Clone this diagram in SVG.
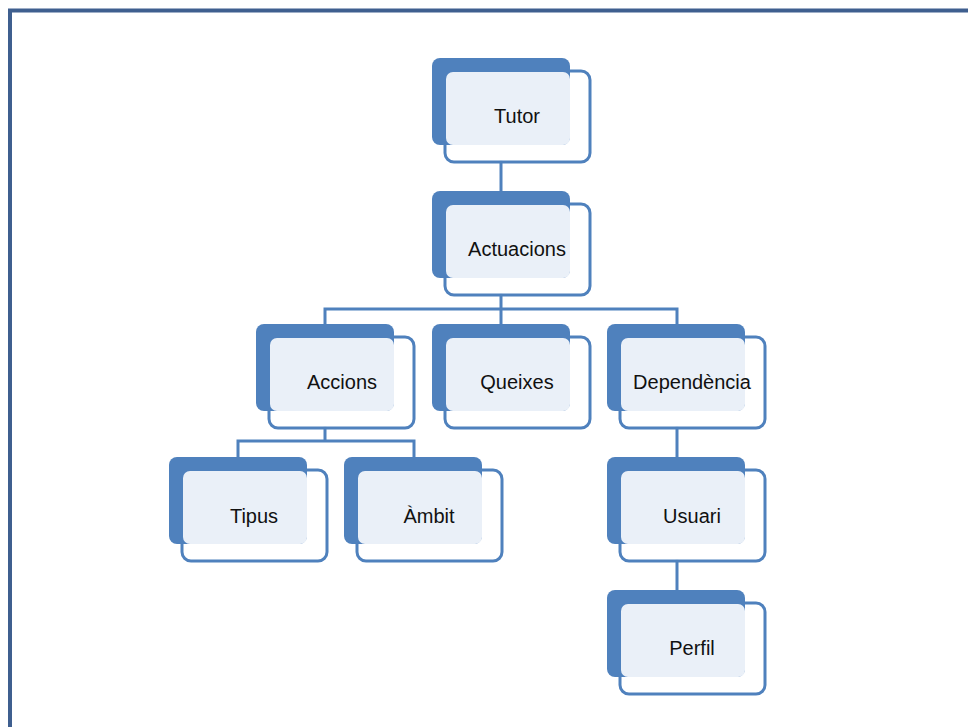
<svg xmlns="http://www.w3.org/2000/svg" width="968" height="727" viewBox="0 0 968 727">
<style>
.back{fill:#4F81BD}
.front{fill:#EAF0F8}
.out{fill:#FFFFFF;fill-opacity:0.92;stroke:#4F81BD;stroke-width:3}
.lbl{font-family:"Liberation Sans",Arial,sans-serif;font-size:20px;fill:#111;text-anchor:middle;dominant-baseline:central}
.con{fill:none;stroke:#4F81BD;stroke-width:3}
</style>
<defs>
<g id="node">
<rect class="out" x="13" y="13" width="145" height="91" rx="9"/>
<rect class="back" x="0" y="0" width="138" height="87" rx="8"/>
<rect class="front" x="14" y="14" width="124" height="73" rx="7"/>
</g>
</defs>
<rect x="0" y="0" width="968" height="727" fill="#FFFFFF"/>
<path d="M10,727 V10.5 H968" fill="none" stroke="#3F5F8F" stroke-width="4"/>
<g id="connectors">
<path class="con" d="M501,160 V191"/>
<path class="con" d="M501,293 V309 M325,324 V309 H677 V324 M501,309 V324"/>
<path class="con" d="M325,426 V441 M238,457 V441 H414 V457"/>
<path class="con" d="M677,426 V457"/>
<path class="con" d="M677,559 V590"/>
</g>
<g id="n-tutor"><use href="#node" x="432" y="58"/><text class="lbl" x="517" y="116">Tutor</text></g>
<g id="n-actuacions"><use href="#node" x="432" y="191"/><text class="lbl" x="517" y="249">Actuacions</text></g>
<g id="n-accions"><use href="#node" x="256" y="324"/><text class="lbl" x="342" y="382">Accions</text></g>
<g id="n-queixes"><use href="#node" x="432" y="324"/><text class="lbl" x="517" y="382">Queixes</text></g>
<g id="n-dependencia"><use href="#node" x="607" y="324"/><text class="lbl" x="692" y="382">Dependència</text></g>
<g id="n-tipus"><use href="#node" x="169" y="457"/><text class="lbl" x="254" y="516">Tipus</text></g>
<g id="n-ambit"><use href="#node" x="344" y="457"/><text class="lbl" x="429" y="516">Àmbit</text></g>
<g id="n-usuari"><use href="#node" x="607" y="457"/><text class="lbl" x="692" y="516">Usuari</text></g>
<g id="n-perfil"><use href="#node" x="607" y="590"/><text class="lbl" x="692" y="648">Perfil</text></g>
</svg>
